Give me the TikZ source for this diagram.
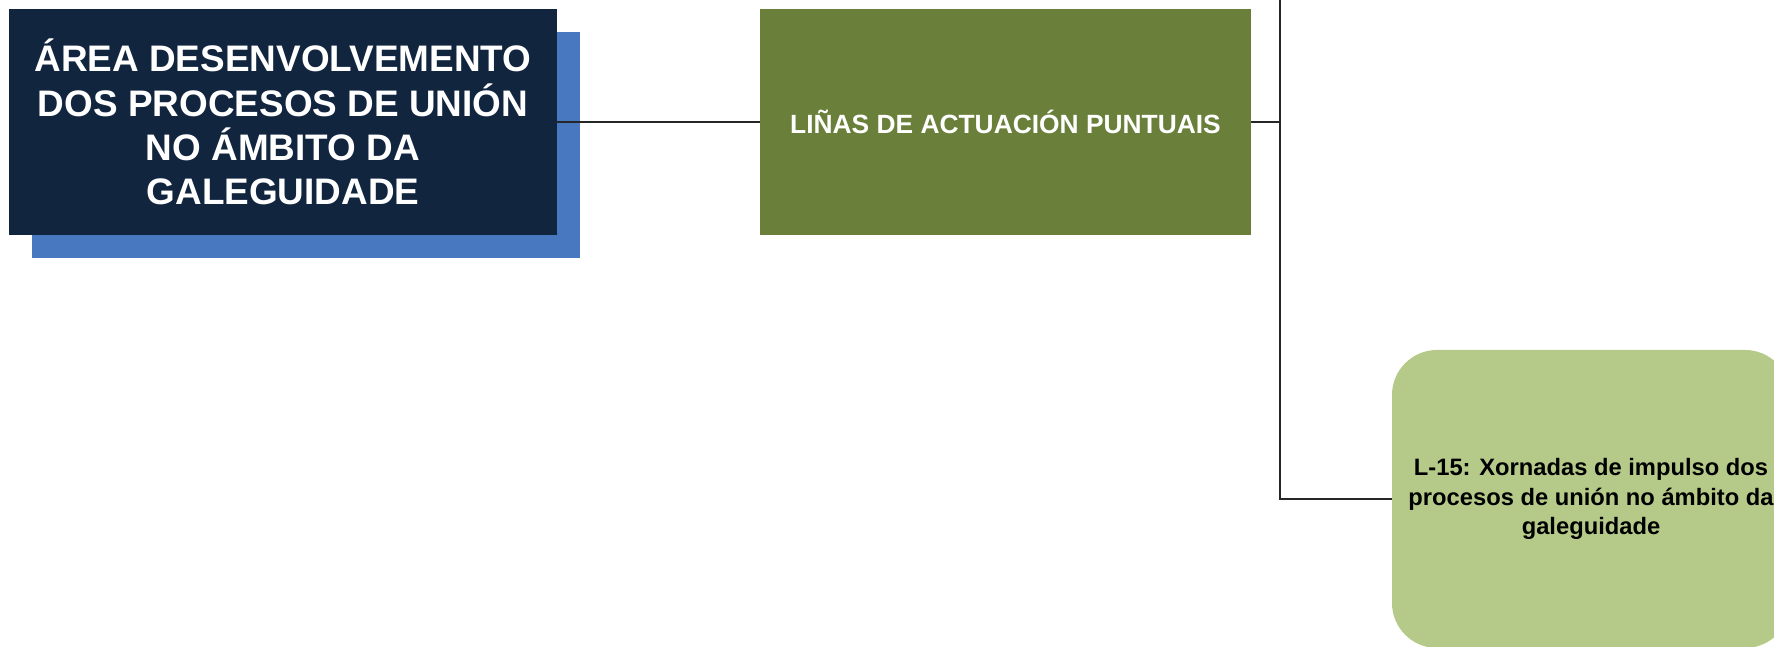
\documentclass[tikz,border=0pt]{standalone}
\usepackage{fontspec}
\setmainfont{Liberation Sans}
\usepackage{tikz}

\definecolor{areanavy}{HTML}{12253F}
\definecolor{areablue}{HTML}{4878BF}
\definecolor{liniagreen}{HTML}{6A803A}
\definecolor{accionlight}{HTML}{B5CA88}

\begin{document}
\begin{tikzpicture}[
		areabox/.style={rectangle, fill=areanavy, text=white, minimum width=10.96cm, minimum height=4.52cm, align=center, inner sep=0pt, font=\bfseries\fontsize{21}{25.2}\selectfont},
		shadowbox/.style={rectangle, fill=areablue, minimum width=10.96cm, minimum height=4.52cm, inner sep=0pt},
		liniabox/.style={rectangle, fill=liniagreen, text=white, minimum width=9.82cm, minimum height=4.52cm, inner sep=0pt, font=\bfseries\fontsize{15}{18}\selectfont},
		accionbox/.style={rectangle, rounded corners=0.9cm, fill=accionlight, text=black, minimum width=7.96cm, minimum height=5.96cm, align=center, inner sep=0pt, font=\bfseries\fontsize{13.5}{16.6}\selectfont},
		conn/.style={draw=black!85, line width=0.6pt}
	]
		\useasboundingbox (0,0) rectangle (35.48,12.94);
		\clip (0,0) rectangle (35.48,12.94);

		\node[shadowbox] (areashadow) at (6.12,10.04) {};
		\node[areabox] (area) at (5.66,10.5) {ÁREA DESENVOLVEMENTO\\DOS PROCESOS DE UNIÓN\\NO ÁMBITO DA\\GALEGUIDADE};

		\node[liniabox] (linias) at (20.11,10.5) {LIÑAS DE ACTUACIÓN PUNTUAIS};

		\node[accionbox] (l15) at (31.82,2.96) {L-15: Xornadas de impulso dos\\procesos de unión no ámbito da\\galeguidade};

		\coordinate (treetop) at (25.6,12.94);

		\draw[conn] (area.east) -- (linias.west);
		\draw[conn] (linias.east) -- (linias.east -| treetop);
		\draw[conn] (treetop) |- (l15.west);
\end{tikzpicture}
\end{document}
